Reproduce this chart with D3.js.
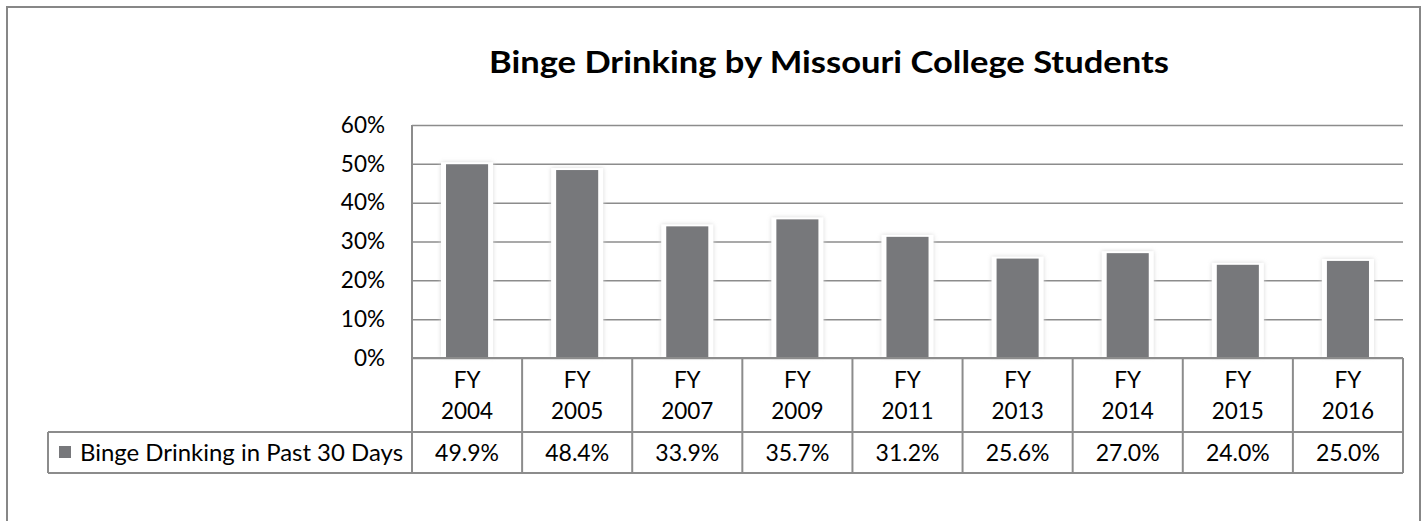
<!DOCTYPE html>
<html>
<head>
<meta charset="utf-8">
<script src="https://cdn.jsdelivr.net/npm/d3@7"></script>
<style>
html,body{margin:0;padding:0;background:#fff;}
svg{display:block;font-family:Lato,"Open Sans",sans-serif;}
</style>
</head>
<body>
<svg id="chart" width="1426" height="521"></svg>
<script>
const title = "Binge Drinking by Missouri College Students";
const seriesName = "Binge Drinking in Past 30 Days";
const categories = ["FY 2004","FY 2005","FY 2007","FY 2009","FY 2011","FY 2013","FY 2014","FY 2015","FY 2016"];
const values = [49.9, 48.4, 33.9, 35.7, 31.2, 25.6, 27.0, 24.0, 25.0];
const valueLabels = ["49.9%","48.4%","33.9%","35.7%","31.2%","25.6%","27.0%","24.0%","25.0%"];
const yTicks = [0, 10, 20, 30, 40, 50, 60];

const svg = d3.select("#chart");
const plot = {left: 412, right: 1403, top: 125, bottom: 358};
const rowH1 = 74, rowH2 = 41;
const legendLeft = 48;
const gridColor = "#8c8c8c";
const barColor = "#77787b";
const textColor = "#000";

// outer frame
svg.append("rect").attr("x", 7).attr("y", 7).attr("width", 1413).attr("height", 640)
  .attr("fill", "#fff").attr("stroke", "#878787").attr("stroke-width", 2);

// title
svg.append("text").attr("x", 829).attr("y", 73).attr("text-anchor", "middle")
  .attr("font-weight", "bold").attr("font-size", 31).attr("fill", textColor)
  .attr("textLength", 680).attr("lengthAdjust", "spacingAndGlyphs")
  .text(title);

const x = d3.scaleBand().domain(categories).range([plot.left, plot.right])
  .paddingInner(0.618).paddingOuter(0.309);
const xCell = d3.scaleBand().domain(categories).range([plot.left, plot.right]);
const y = d3.scaleLinear().domain([0, 60]).range([plot.bottom, plot.top]);

// gridlines + tick labels
const yAxis = d3.axisLeft(y).tickValues(yTicks).tickFormat(d => d + "%")
  .tickSize(-(plot.right - plot.left));
const gy = svg.append("g").attr("transform", `translate(${plot.left},0)`).call(yAxis);
gy.select(".domain").remove();
gy.selectAll(".tick line").attr("stroke", gridColor).attr("stroke-width", 1.5);
gy.selectAll(".tick text").attr("font-size", 22.5).attr("fill", textColor)
  .attr("font-family", "Lato, 'Open Sans', sans-serif").attr("x", -27);

// vertical axis line
svg.append("line").attr("x1", plot.left).attr("x2", plot.left)
  .attr("y1", plot.top).attr("y2", plot.bottom + rowH1 + rowH2)
  .attr("stroke", gridColor).attr("stroke-width", 2);

// bar shadow filter
const defs = svg.append("defs");
const f = defs.append("filter").attr("id", "glow").attr("x", "-30%").attr("y", "-10%")
  .attr("width", "160%").attr("height", "120%");
f.append("feGaussianBlur").attr("in", "SourceAlpha").attr("stdDeviation", 2.2).attr("result", "b");
f.append("feFlood").attr("flood-color", "#d8d8d8").attr("result", "c");
f.append("feComposite").attr("in", "c").attr("in2", "b").attr("operator", "in").attr("result", "s");
const fm = f.append("feMerge");
fm.append("feMergeNode").attr("in", "s");
fm.append("feMergeNode").attr("in", "SourceGraphic");

// white halo behind bars
svg.append("g").selectAll("rect").data(values).join("rect")
  .attr("x", (d, i) => x(categories[i]) - 5)
  .attr("y", d => y(d) - 2)
  .attr("width", x.bandwidth() + 10)
  .attr("height", d => plot.bottom - y(d) + 1)
  .attr("fill", "#fff").attr("filter", "url(#glow)");

// bars
svg.append("g").selectAll("rect").data(values).join("rect")
  .attr("x", (d, i) => x(categories[i]))
  .attr("y", d => y(d))
  .attr("width", x.bandwidth())
  .attr("height", d => plot.bottom - y(d))
  .attr("fill", barColor);

// baseline
svg.append("line").attr("x1", plot.left).attr("x2", plot.right)
  .attr("y1", plot.bottom).attr("y2", plot.bottom)
  .attr("stroke", gridColor).attr("stroke-width", 2);

// data table
const tY1 = plot.bottom + rowH1, tY2 = tY1 + rowH2;
const tg = svg.append("g");
tg.append("line").attr("x1", legendLeft).attr("x2", plot.right).attr("y1", tY1).attr("y2", tY1)
  .attr("stroke", gridColor).attr("stroke-width", 2);
tg.append("line").attr("x1", legendLeft).attr("x2", plot.right).attr("y1", tY2).attr("y2", tY2)
  .attr("stroke", gridColor).attr("stroke-width", 2);
tg.append("line").attr("x1", legendLeft).attr("x2", legendLeft).attr("y1", tY1).attr("y2", tY2)
  .attr("stroke", gridColor).attr("stroke-width", 2);
tg.selectAll("line.v").data(categories).join("line").attr("class", "v")
  .attr("x1", d => xCell(d) + xCell.bandwidth()).attr("x2", d => xCell(d) + xCell.bandwidth())
  .attr("y1", plot.bottom).attr("y2", tY2)
  .attr("stroke", gridColor).attr("stroke-width", 2);

// category labels (two lines)
const cl = tg.selectAll("text.cat").data(categories).join("text").attr("class", "cat")
  .attr("text-anchor", "middle").attr("font-size", 22.5).attr("fill", textColor);
cl.each(function(d) {
  const parts = d.split(" ");
  const t = d3.select(this);
  const cx = xCell(d) + xCell.bandwidth() / 2;
  t.append("tspan").attr("x", cx).attr("y", plot.bottom + 30).text(parts[0]);
  t.append("tspan").attr("x", cx).attr("y", plot.bottom + 61).text(parts[1]);
});

// value labels
tg.selectAll("text.val").data(valueLabels).join("text").attr("class", "val")
  .attr("x", (d, i) => xCell(categories[i]) + xCell.bandwidth() / 2)
  .attr("y", tY1 + 29).attr("text-anchor", "middle").attr("font-size", 23)
  .attr("fill", textColor).text(d => d);

// legend key
tg.append("rect").attr("x", 59).attr("y", 446).attr("width", 12).attr("height", 12).attr("fill", barColor);
tg.append("text").attr("x", 80).attr("y", tY1 + 29).attr("font-size", 23).attr("fill", textColor)
  .attr("textLength", 323).attr("lengthAdjust", "spacingAndGlyphs")
  .text(seriesName);
</script>
</body>
</html>
